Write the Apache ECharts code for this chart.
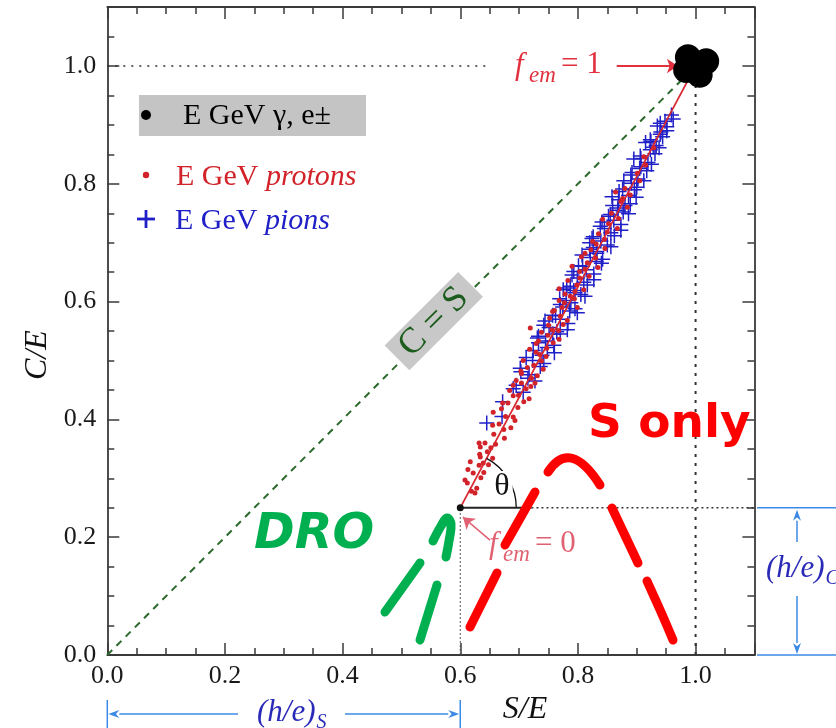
<!DOCTYPE html>
<html>
<head>
<meta charset="utf-8">
<script src="https://cdn.jsdelivr.net/npm/echarts@6/dist/echarts.min.js"></script>
<style>
  html, body { margin: 0; padding: 0; background: #fff; }
  #chart { width: 836px; height: 728px; }
</style>
</head>
<body>
<div id="chart"></div>
<script>
// ---- axis set-up (S/E horizontally, C/E vertically) ----
const axisRange = [0, 1.1];
const majorStep = 0.2;
const minorStep = 0.05;

// ---- measured signals ----
// electrons / photons: everything ends up near C/E = S/E = 1
const electrons = [[0.987, 1.015], [1.018, 1.008], [1.007, 0.985], [0.984, 0.993], [1.002, 1.000]];

// protons (red dots)
const protons = [
  [0.619,0.278],[0.612,0.292],[0.635,0.301],[0.613,0.315],[0.632,0.322],[0.655,0.334],[0.633,0.341],[0.652,0.352],
  [0.632,0.360],[0.675,0.368],[0.657,0.375],[0.674,0.383],[0.655,0.390],[0.693,0.398],[0.677,0.405],[0.656,0.412],
  [0.698,0.420],[0.681,0.428],[0.717,0.435],[0.699,0.441],[0.684,0.449],[0.720,0.456],[0.704,0.462],[0.721,0.470],
  [0.704,0.478],[0.741,0.485],[0.725,0.492],[0.707,0.500],[0.746,0.507],[0.729,0.514],[0.747,0.521],[0.729,0.529],
  [0.768,0.536],[0.749,0.543],[0.767,0.551],[0.719,0.555],[0.750,0.560],[0.782,0.568],[0.770,0.575],[0.757,0.583],
  [0.799,0.590],[0.777,0.598],[0.794,0.605],[0.778,0.613],[0.810,0.620],[0.798,0.628],[0.783,0.636],[0.819,0.643],
  [0.803,0.651],[0.834,0.658],[0.816,0.666],[0.830,0.674],[0.812,0.682],[0.846,0.690],[0.831,0.698],[0.845,0.706],
  [0.835,0.715],[0.867,0.724],[0.852,0.732],[0.869,0.741],[0.857,0.750],[0.884,0.760],[0.873,0.770],[0.889,0.781],
  [0.880,0.792],[0.905,0.805],[0.901,0.818],[0.915,0.832],[0.912,0.846],[0.929,0.861],
  [0.608,0.297],[0.617,0.328],[0.625,0.275],[0.634,0.336],[0.639,0.326],[0.648,0.323],[0.634,0.353],[0.642,0.360],
  [0.622,0.309],[0.628,0.283],[0.640,0.310],[0.646,0.345],[0.660,0.358],[0.666,0.392],[0.686,0.386],[0.670,0.418],
  [0.690,0.440],[0.712,0.452],[0.695,0.466],[0.731,0.474],[0.714,0.488],[0.738,0.499],[0.718,0.519],[0.758,0.530],
  [0.738,0.548],[0.775,0.561],[0.760,0.585],[0.787,0.609],[0.768,0.622],[0.803,0.640],[0.790,0.660],[0.822,0.688],
  [0.850,0.718],[0.842,0.740],[0.876,0.775],[0.864,0.786],
  [0.690,0.404],[0.672,0.428],[0.708,0.430],[0.690,0.458],[0.727,0.462],[0.703,0.482],[0.735,0.510],[0.733,0.533],
  [0.756,0.552],[0.752,0.572],[0.773,0.590],[0.768,0.602],[0.795,0.617],[0.812,0.655],[0.806,0.676],[0.825,0.702]
];

// pions (blue crosses)
const pions = [
  [0.645,0.394],[0.671,0.405],[0.672,0.430],[0.707,0.446],[0.695,0.458],[0.715,0.470],[0.703,0.481],[0.736,0.490],
  [0.723,0.500],[0.739,0.509],[0.724,0.517],[0.759,0.526],[0.745,0.533],[0.733,0.541],[0.764,0.549],[0.751,0.556],
  [0.783,0.563],[0.770,0.570],[0.757,0.577],[0.786,0.584],[0.774,0.591],[0.788,0.598],[0.769,0.605],[0.805,0.612],
  [0.793,0.619],[0.787,0.626],[0.810,0.633],[0.799,0.640],[0.827,0.647],[0.814,0.654],[0.801,0.661],[0.831,0.668],
  [0.821,0.675],[0.832,0.682],[0.820,0.689],[0.850,0.696],[0.839,0.703],[0.826,0.710],[0.856,0.717],[0.845,0.724],
  [0.873,0.731],[0.861,0.738],[0.852,0.745],[0.877,0.752],[0.868,0.759],[0.889,0.766],[0.869,0.773],[0.886,0.780],
  [0.870,0.787],[0.900,0.794],[0.891,0.801],[0.902,0.808],[0.890,0.815],[0.917,0.822],[0.907,0.829],[0.919,0.836],
  [0.907,0.843],[0.931,0.851],[0.923,0.858],[0.933,0.865],[0.924,0.872],[0.944,0.880],[0.941,0.888],[0.951,0.897],
  [0.948,0.906],[0.959,0.917],
  [0.690,0.452],[0.717,0.476],[0.742,0.495],[0.712,0.505],[0.748,0.522],[0.731,0.538],[0.770,0.545],[0.742,0.560],
  [0.762,0.576],[0.795,0.588],[0.780,0.602],[0.775,0.620],[0.816,0.628],[0.790,0.645],[0.808,0.660],[0.842,0.672],
  [0.826,0.692],[0.820,0.700],[0.862,0.712],[0.838,0.728],[0.855,0.748],[0.880,0.763],[0.858,0.778],[0.896,0.790],
  [0.878,0.805],[0.905,0.826],[0.895,0.842],[0.928,0.862],[0.915,0.870],[0.940,0.884],[0.935,0.898],[0.962,0.910],
  [0.727,0.465],[0.702,0.487],[0.760,0.513],[0.733,0.530],[0.782,0.552],[0.744,0.567],[0.799,0.581],[0.770,0.595],
  [0.812,0.609],[0.781,0.623],[0.827,0.637],[0.793,0.651],[0.840,0.665],[0.807,0.679],[0.856,0.693],[0.824,0.707],
  [0.873,0.721],[0.841,0.735],[0.886,0.749],[0.859,0.763],[0.899,0.777],[0.876,0.791],[0.912,0.805],[0.892,0.819],
  [0.925,0.833],[0.906,0.847],[0.938,0.861],[0.923,0.875],[0.951,0.890],[0.940,0.903],[0.757,0.545],[0.795,0.615],
  [0.832,0.685],[0.868,0.755]
];

// ---- reference lines of the diagram ----
const femZero = [0.6, 0.25];                    // (h/e)_S, (h/e)_C : pure hadronic point
const femOne = [1.0, 1.0];                      // pure electromagnetic point
const hadronLine = [femZero, femOne];
const equalityLine = [[0, 0], [0.985, 0.985]];  // C = S
const unitLevel = [[0, 1.0], [0.647, 1.0]];
const unitResponse = [[1.0, 0], [1.0, 0.965]];
const femZeroDrop = [[0.6, 0], [0.6, 0.25]];
const femZeroBase = [[0.6, 0.25], [0.721, 0.25]];
const femZeroLevel = [[0.721, 0.25], [1.1, 0.25]];

// arrows pointing at the two end points
const femOneArrow = [[0.866, 1.0], [0.970, 1.0]];
const femZeroArrow = [[0.6505, 0.195], [0.6046, 0.234]];

const SERIF = '"Liberation Serif", "Times New Roman", "DejaVu Serif", serif';
const HAND = '"DejaVu Sans", "Noto Sans", sans-serif';
// thin "+" outline as one closed polygon
const plusPath = 'path://M4.5,0L5.5,0L5.5,4.5L10,4.5L10,5.5L5.5,5.5L5.5,10L4.5,10L4.5,5.5L0,5.5L0,4.5L4.5,4.5Z';

const tickFmt = v => Math.abs(v / majorStep - Math.round(v / majorStep)) < 1e-6 ? v.toFixed(1) : '';

function axis(position, step, tickLen, showLabel, showLine) {
  const isX = position === 'bottom' || position === 'top';
  return {
    type: 'value', position, min: axisRange[0], max: axisRange[1], interval: step,
    axisLine: { show: showLine, onZero: false, lineStyle: { color: '#3a3a3a', width: 1.8 } },
    axisTick: { show: true, inside: true, length: tickLen, lineStyle: { color: '#3a3a3a', width: 1.5 } },
    axisLabel: {
      show: showLabel, formatter: tickFmt, fontFamily: SERIF, fontSize: 26, color: '#1a1a1a',
      margin: isX ? 8 : 11
    },
    splitLine: { show: false }
  };
}

function guide(data, color, width, type, z) {
  return {
    type: 'line', data, symbol: 'none', silent: true, z,
    lineStyle: { color, width, type }
  };
}

const chart = echarts.init(document.getElementById('chart'), null, { renderer: 'canvas' });

chart.setOption({
  animation: false,
  backgroundColor: '#ffffff',
  grid: { left: 107.3, right: 81.6, top: 7.1, bottom: 73, containLabel: false },
  xAxis: [
    axis('bottom', majorStep, 12, true, true),
    axis('bottom', minorStep, 7, false, false),
    axis('top', majorStep, 12, false, true),
    axis('top', minorStep, 7, false, false)
  ],
  yAxis: [
    axis('left', majorStep, 12, true, true),
    axis('left', minorStep, 7, false, false),
    axis('right', majorStep, 12, false, true),
    axis('right', minorStep, 7, false, false)
  ],
  series: [
    guide(equalityLine, '#2b6a2b', 2, [7, 6], 2),
    guide(unitLevel, '#333333', 1.6, [2, 6], 2),
    guide(unitResponse, '#333333', 2, [3, 6], 2),
    guide(femZeroDrop, '#555555', 1, [2, 2], 2),
    guide(femZeroBase, '#222222', 2, 'solid', 2),
    guide(femZeroLevel, '#333333', 1.6, [2, 3], 2),
    {
      name: 'pions', type: 'scatter', data: pions, symbol: plusPath, symbolSize: 15,
      itemStyle: { color: '#2020c8', opacity: 1 }, silent: true, z: 3
    },
    {
      name: 'protons', type: 'scatter', data: protons, symbol: 'circle', symbolSize: 5,
      itemStyle: { color: '#d2232a', opacity: 1 }, silent: true, z: 4
    },
    guide(hadronLine, '#d8262e', 1.6, 'solid', 5),
    {
      name: 'electrons', type: 'scatter', data: electrons, symbol: 'circle', symbolSize: 26,
      itemStyle: { color: '#000000', opacity: 1 }, silent: true, z: 6
    },
    {
      name: 'fem0', type: 'scatter', data: [femZero], symbol: 'circle', symbolSize: 7,
      itemStyle: { color: '#111111', opacity: 1 }, silent: true, z: 7
    },
    {
      type: 'line', data: [], silent: true, z: 8,
      markLine: {
        silent: true, animation: false, symbol: ['none', 'arrow'], symbolSize: 11,
        label: { show: false },
        lineStyle: { color: '#e2303f', width: 1.8, type: 'solid' },
        data: [
          [{ coord: femOneArrow[0] }, { coord: femOneArrow[1] }],
          [{ coord: femZeroArrow[0], lineStyle: { color: '#e06272', width: 1.5 } }, { coord: femZeroArrow[1] }]
        ]
      }
    }
  ]
});

// ---- overlay drawn in screen space, anchored on the axes ----
const P = p => chart.convertToPixel({ xAxisIndex: 0, yAxisIndex: 0 }, p);
const measureCtx = document.createElement('canvas').getContext('2d');
function textWidth(text, font) { measureCtx.font = font; return measureCtx.measureText(text).width; }

function arrow(x1, y1, x2, y2, color, width) {
  const ang = Math.atan2(y2 - y1, x2 - x1);
  const L = 11, W = 4;
  const bx = x2 - L * Math.cos(ang), by = y2 - L * Math.sin(ang);
  const nx = -Math.sin(ang), ny = Math.cos(ang);
  return [
    { type: 'line', z: 120, shape: { x1, y1, x2: bx, y2: by }, style: { stroke: color, lineWidth: width } },
    { type: 'polygon', z: 120, shape: { points: [[x2, y2], [bx + nx * W, by + ny * W], [x2 - 0.7 * L * Math.cos(ang), y2 - 0.7 * L * Math.sin(ang)], [bx - nx * W, by - ny * W]] }, style: { fill: color } }
  ];
}

function stroke(points, color, smooth) {
  return {
    type: 'polyline', z: 140, shape: { points, smooth: smooth || 0 },
    style: { stroke: color, lineWidth: 9, lineCap: 'round', lineJoin: 'round', fill: null }
  };
}

const g = [];

// legend
g.push({ type: 'rect', z: 110, shape: { x: 139, y: 95, width: 227, height: 41 }, style: { fill: '#c4c4c4' } });
g.push({ type: 'circle', z: 111, shape: { cx: 146, cy: 115, r: 5 }, style: { fill: '#000' } });
g.push({ type: 'text', z: 111, style: { text: 'E GeV γ, e±', x: 183, y: 116, fill: '#000', fontFamily: SERIF, fontSize: 30, verticalAlign: 'middle' } });
g.push({ type: 'circle', z: 111, shape: { cx: 146, cy: 175, r: 3.2 }, style: { fill: '#d2232a' } });
g.push({
  type: 'text', z: 111,
  style: {
    text: '{n|E GeV }{i|protons}', x: 176, y: 177, fill: '#d2232a', verticalAlign: 'middle',
    rich: {
      n: { fontFamily: SERIF, fontSize: 30, fill: '#d2232a' },
      i: { fontFamily: SERIF, fontSize: 30, fontStyle: 'italic', fill: '#d2232a' }
    }
  }
});
g.push({ type: 'rect', z: 111, shape: { x: 137, y: 217.6, width: 18, height: 2.8 }, style: { fill: '#2020c8' } });
g.push({ type: 'rect', z: 111, shape: { x: 144.6, y: 210, width: 2.8, height: 18 }, style: { fill: '#2020c8' } });
g.push({
  type: 'text', z: 111,
  style: {
    text: '{n|E GeV }{i|pions}', x: 175, y: 221, fill: '#2020c8', verticalAlign: 'middle',
    rich: {
      n: { fontFamily: SERIF, fontSize: 30, fill: '#2020c8' },
      i: { fontFamily: SERIF, fontSize: 30, fontStyle: 'italic', fill: '#2020c8' }
    }
  }
});

// axis titles
g.push({ type: 'text', z: 110, x: 38, y: 355, rotation: Math.PI / 2,
  style: { text: 'C/E', fill: '#111', fontFamily: SERIF, fontSize: 32, fontStyle: 'italic', align: 'center', verticalAlign: 'middle' } });
g.push({ type: 'text', z: 110, x: 525, y: 710,
  style: { text: 'S/E', fill: '#111', fontFamily: SERIF, fontSize: 32, fontStyle: 'italic', align: 'center', verticalAlign: 'middle' } });

// C = S tag on the diagonal
const tag = P([0.555, 0.567]);
g.push({ type: 'rect', z: 110, x: tag[0], y: tag[1], rotation: Math.PI / 4,
  shape: { x: -52, y: -17.5, width: 104, height: 35 }, style: { fill: '#c8c8c8' } });
g.push({ type: 'text', z: 111, x: tag[0], y: tag[1] + 1, rotation: Math.PI / 4,
  style: { text: 'C = S', fill: '#1c5c1c', fontFamily: SERIF, fontSize: 36, align: 'center', verticalAlign: 'middle' } });

// f_em labels
function femLabel(x, y, value, color) {
  g.push({ type: 'text', z: 115, style: { text: 'f', x, y, fill: color, fontFamily: SERIF, fontSize: 31, fontStyle: 'italic', verticalAlign: 'middle' } });
  g.push({ type: 'text', z: 115, style: { text: 'em', x: x + 14, y: y + 10, fill: color, fontFamily: SERIF, fontSize: 23, fontStyle: 'italic', verticalAlign: 'middle' } });
  g.push({ type: 'text', z: 115, style: { text: '= ' + value, x: x + 46, y: y - 1, fill: color, fontFamily: SERIF, fontSize: 31, verticalAlign: 'middle' } });
}
femLabel(515, 66, '1', '#e2303f');
femLabel(489, 545, '0', '#e06272');

// angle theta between the hadron line and the horizontal
const c0 = P(femZero), c1 = P(femOne);
const lineAng = Math.atan2(c1[1] - c0[1], c1[0] - c0[0]);
g.push({ type: 'arc', z: 112, shape: { cx: c0[0], cy: c0[1], r: 56, startAngle: lineAng, endAngle: 0, clockwise: true },
  style: { stroke: '#111', lineWidth: 1.3, fill: null } });
g.push({ type: 'text', z: 113, x: 502, y: 487,
  style: { text: 'θ', fill: '#111', fontFamily: SERIF, fontSize: 32, align: 'center', verticalAlign: 'middle',
    backgroundColor: '#ffffff', padding: [0, 3, 0, 3] } });

// (h/e) spans with a subscript placed right after the measured text
const BLUE = '#3c8ae6', BLUE_TXT = '#2a2ab8';
const HE_FONT = 'italic 31px "Liberation Serif"';
function heLabel(x, y, sub) {
  const w = textWidth('(h/e)', HE_FONT);
  g.push({ type: 'text', z: 120, style: { text: '(h/e)', x, y, fill: BLUE_TXT, fontFamily: SERIF, fontSize: 31, fontStyle: 'italic', verticalAlign: 'middle' } });
  g.push({ type: 'text', z: 120, style: { text: sub, x: x + w + 1, y: y + 10, fill: BLUE_TXT, fontFamily: SERIF, fontSize: 20, fontStyle: 'italic', verticalAlign: 'middle' } });
}

// (h/e)_S span below the axis
const xs0 = P([0, 0])[0], xs6 = P([0.6, 0])[0];
g.push({ type: 'line', z: 120, shape: { x1: xs0, y1: 700, x2: xs0, y2: 728 }, style: { stroke: BLUE, lineWidth: 1.5 } });
g.push({ type: 'line', z: 120, shape: { x1: xs6, y1: 700, x2: xs6, y2: 728 }, style: { stroke: BLUE, lineWidth: 1.5 } });
arrow(238, 714, xs0 + 1, 714, BLUE, 1.5).forEach(e => g.push(e));
arrow(345, 714, xs6 - 1, 714, BLUE, 1.5).forEach(e => g.push(e));
heLabel(257, 713, 'S');

// (h/e)_C span right of the plot
const yc25 = P([0, 0.25])[1], yc0 = P([0, 0])[1];
g.push({ type: 'line', z: 120, shape: { x1: 757, y1: yc25, x2: 836, y2: yc25 }, style: { stroke: BLUE, lineWidth: 1.5 } });
g.push({ type: 'line', z: 120, shape: { x1: 757, y1: yc0, x2: 836, y2: yc0 }, style: { stroke: BLUE, lineWidth: 1.5 } });
arrow(797, 542, 797, yc25 + 2, BLUE, 1.5).forEach(e => g.push(e));
arrow(797, 596, 797, yc0 - 1, BLUE, 1.5).forEach(e => g.push(e));
heLabel(766, 569, 'C');

// hand-written remarks
const RED = '#ff0000', GREEN = '#00b050';
g.push({ type: 'text', z: 140, style: { text: 'S only', x: 588, y: 425, fill: RED, fontFamily: HAND, fontSize: 47, fontWeight: 'bold', verticalAlign: 'middle' } });
g.push({ type: 'text', z: 140, style: { text: 'DRO', x: 254, y: 535, fill: GREEN, fontFamily: HAND, fontSize: 49, fontWeight: 'bold', fontStyle: 'italic', verticalAlign: 'middle' } });

g.push(stroke([[470, 627], [497, 573]], RED));
g.push(stroke([[505, 545], [535, 492]], RED));
g.push({ type: 'bezierCurve', z: 140, shape: { x1: 548, y1: 472, cpx1: 570, cpy1: 438, x2: 600, y2: 485 },
  style: { stroke: RED, lineWidth: 9, lineCap: 'round', fill: null } });
g.push(stroke([[612, 508], [638, 563]], RED));
g.push(stroke([[647, 581], [661, 612], [673, 640]], RED, 0.3));

g.push(stroke([[433, 541], [441, 526], [447, 518], [451, 524], [449, 541], [446, 557]], GREEN, 0.4));
g.push(stroke([[420, 563], [385, 612]], GREEN));
g.push(stroke([[437, 585], [420, 640]], GREEN));

chart.setOption({ graphic: { elements: g } });
</script>
</body>
</html>
